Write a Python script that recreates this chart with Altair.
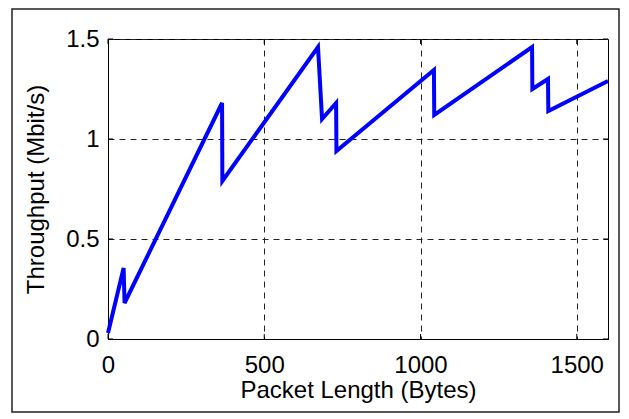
import altair as alt
import pandas as pd

# ---- data ----
length_bytes = [0, 50, 53, 365, 366, 672, 685, 730, 731, 1043, 1044, 1357, 1358, 1408, 1409, 1600]
throughput = [0.03, 0.355, 0.18, 1.18, 0.79, 1.46, 1.10, 1.18, 0.94, 1.345, 1.12, 1.46, 1.25, 1.30, 1.14, 1.29]
x_ticks = [0, 500, 1000, 1500]
y_ticks = [0, 0.5, 1, 1.5]
x_title = "Packet Length (Bytes)"
y_title = "Throughput (Mbit/s)"

FONT = "Liberation Sans"
W, H = 500, 300

df = pd.DataFrame({"len": length_bytes, "thr": throughput, "order": list(range(len(length_bytes)))})
xt = pd.DataFrame({"len": x_ticks})
yt = pd.DataFrame({"thr": y_ticks})

xs = alt.Scale(domain=[0, 1600], nice=False, zero=False)
ys = alt.Scale(domain=[0, 1.5], nice=False, zero=False)

grid_kw = dict(grid=True, gridColor="#222222", gridDash=[6, 5], gridWidth=1, gridOpacity=1,
               ticks=False, tickSize=0, domain=True, domainColor="black",
               labelFont=FONT, labelFontSize=24, labelColor="black",
               titleFont=FONT, titleFontSize=24, titleFontWeight="normal", titleColor="black",
               labelFlush=False, labelOverlap=False, labelBound=False)

x_axis = alt.Axis(values=x_ticks, format="d", title=x_title, labelPadding=14,
                  titleX=W / 2, titleY=39, titleBaseline="top", titleAlign="center",
                  **grid_kw)
y_axis = alt.Axis(values=y_ticks, format="~g", title=y_title, labelPadding=9,
                  titleX=-84, titleY=H / 2, titleAngle=270, titleBaseline="top",
                  titleAlign="center", **grid_kw)

X = lambda: alt.X("len:Q", scale=xs, axis=x_axis)
Y = lambda: alt.Y("thr:Q", scale=ys, axis=y_axis)

line = alt.Chart(df).mark_line(color="#0000FF", strokeWidth=4, strokeJoin="miter").encode(
    x=X(), y=Y(), order="order:Q",
)

tick_b = alt.Chart(xt).mark_rule(color="black", strokeWidth=1).encode(
    x=X(), y=alt.value(H), y2=alt.value(H - 5))
tick_t = alt.Chart(xt).mark_rule(color="black", strokeWidth=1).encode(
    x=X(), y=alt.value(0), y2=alt.value(5))
tick_l = alt.Chart(yt).mark_rule(color="black", strokeWidth=1).encode(
    y=Y(), x=alt.value(0), x2=alt.value(5))
tick_r = alt.Chart(yt).mark_rule(color="black", strokeWidth=1).encode(
    y=Y(), x=alt.value(W), x2=alt.value(W - 5))

frame = alt.Chart(pd.DataFrame({"a": [0]})).mark_rect(
    filled=False, stroke="#222222", strokeWidth=1.5).encode(
    x=alt.value(-96), x2=alt.value(511), y=alt.value(-30), y2=alt.value(373))

chart = alt.layer(frame, line, tick_b, tick_t, tick_l, tick_r).properties(
    width=W, height=H,
    padding={"left": 100, "top": 31, "right": 12, "bottom": 74},
    autosize=alt.AutoSizeParams(type="none"),
    background="white",
).configure_view(stroke="black", strokeWidth=1)

chart.save("out.html", embed_options={"renderer": "svg", "actions": False})
